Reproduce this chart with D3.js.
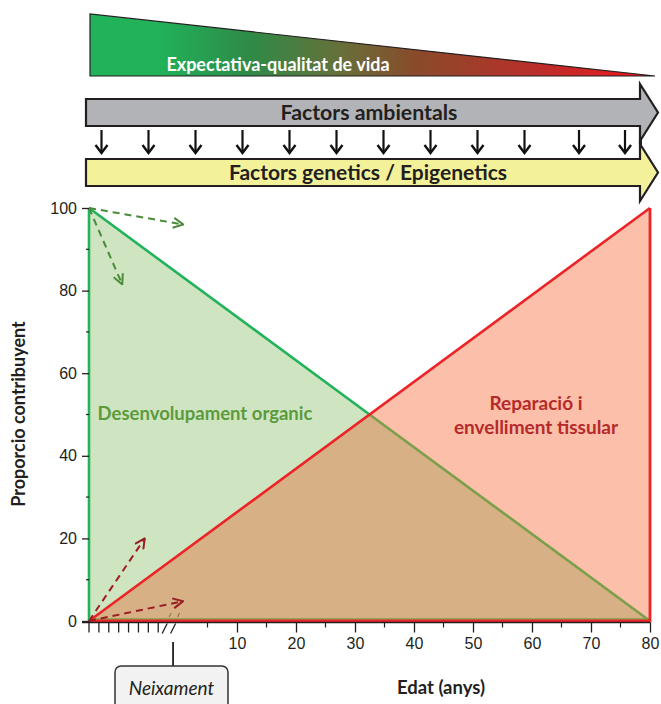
<!DOCTYPE html>
<html><head><meta charset="utf-8">
<script src="https://cdn.jsdelivr.net/npm/d3@7"></script>
<style>
html,body{margin:0;padding:0;background:#fff;}
svg{display:block;}
</style></head>
<body>
<script>
// ---------------- data ----------------
const ages = [-0.75, 80];                 // years (conception = -9 months)
const desenvolupament = [100, 0];         // Desenvolupament organic
const reparacio = [0, 100];               // Reparació i envelliment tissular
const yTicks = [0, 20, 40, 60, 80, 100];
const yMinorTicks = [10, 30, 50, 70, 90];
const xTicks = [10, 20, 30, 40, 50, 60, 70, 80];
const xMinorTicks = [5, 15, 25, 35, 45, 55, 65, 75];
const prenatalMonths = [-9, -8, -7, -6, -5, -4, -3, -2];
const greenArrows = [[[-0.75, 100], [0.9, 96]], [[-0.75, 100], [-0.47, 81.5]]];
const redArrows = [[[-0.75, 0], [-0.28, 20]], [[-0.75, 0], [0.85, 4.8]]];
const topArrowCount = 12;

// ---------------- layout ----------------
const W = 661, H = 704;
const svg = d3.select("body").append("svg").attr("width", W).attr("height", H);
const x = d3.scaleLinear().domain([-0.75, 0, 80]).range([89, 178, 650]);
const y = d3.scaleLinear().domain([0, 100]).range([621, 208]);
const FONT = "Lato, 'Open Sans', sans-serif";

const defs = svg.append("defs");
const grad = defs.append("linearGradient").attr("id", "lifeGrad").attr("x1", "0%").attr("x2", "100%");
[["0%", "#21b35a"], ["12%", "#21b25a"], ["28%", "#2e8b48"], ["44%", "#66703a"], ["58%", "#8a4a2a"], ["78%", "#b8302a"], ["100%", "#f0141e"]]
  .forEach(([o, c]) => grad.append("stop").attr("offset", o).attr("stop-color", c));

function marker(id, color) {
  defs.append("marker").attr("id", id).attr("markerUnits", "userSpaceOnUse")
    .attr("viewBox", "0 0 12 12").attr("refX", 11).attr("refY", 6)
    .attr("markerWidth", 12).attr("markerHeight", 12).attr("orient", "auto")
    .append("path").attr("d", "M1,1 L11,6 L1,11").attr("fill", "none")
    .attr("stroke", color).attr("stroke-width", 2);
}
marker("mGreen", "#4a8a3a");
marker("mRed", "#9b1c22");

// ---------------- top decorations ----------------
svg.append("path").attr("d", "M90,14 L90,76 L655,76 Z").attr("fill", "url(#lifeGrad)");
svg.append("path").attr("d", "M90,76 L90,14 L655,76 Z").attr("fill", "none").attr("stroke", "#231f20").attr("stroke-width", 1.2);
svg.append("text").attr("x", 278).attr("y", 71).attr("text-anchor", "middle")
  .attr("font-family", FONT).attr("font-weight", "bold").attr("font-size", 18)
  .attr("fill", "#fff").text("Expectativa-qualitat de vida");

function bigArrow(yTop, yBot, headTop, headBot, fill) {
  const yMid = (yTop + yBot) / 2;
  const p = `M86,${yTop} L640,${yTop} L640,${headTop} L658,${yMid} L640,${headBot} L640,${yBot} L86,${yBot} Z`;
  svg.append("path").attr("d", p).attr("fill", fill).attr("stroke", "#231f20").attr("stroke-width", 2.2).attr("stroke-linejoin", "miter");
}
svg.append("path").attr("d", "M641,126 L641,158").attr("stroke", "#231f20").attr("stroke-width", 2);
bigArrow(99, 126, 84, 141, "#b1b3b6");
bigArrow(159, 186, 144, 201, "#f3f29b");
svg.append("text").attr("x", 369).attr("y", 120).attr("text-anchor", "middle")
  .attr("font-family", FONT).attr("font-weight", "bold").attr("font-size", 21.3)
  .attr("fill", "#231f20").text("Factors ambientals");
svg.append("text").attr("x", 368).attr("y", 180).attr("text-anchor", "middle")
  .attr("font-family", FONT).attr("font-weight", "bold").attr("font-size", 21)
  .attr("fill", "#231f20").text("Factors genetics / Epigenetics");

const arrowXs = d3.range(topArrowCount).map(i => i < 10 ? 101.5 + i * 47 : (i === 10 ? 579 : 625));
const da = svg.append("g");
arrowXs.forEach(ax => {
  da.append("line").attr("x1", ax).attr("x2", ax).attr("y1", 130).attr("y2", 153).attr("stroke", "#111").attr("stroke-width", 2.2);
  da.append("path").attr("d", `M${ax - 6},${145} L${ax},${153} L${ax + 6},${145}`).attr("fill", "none").attr("stroke", "#111").attr("stroke-width", 2.4);
});

// ---------------- chart areas ----------------
const P0 = [x(ages[0]), x(ages[1])];
// crossing point of the two straight lines (fraction along the segment)
const tCross = (desenvolupament[0] - reparacio[0]) / ((desenvolupament[0] - reparacio[0]) - (desenvolupament[1] - reparacio[1]));
const vCross = desenvolupament[0] + tCross * (desenvolupament[1] - desenvolupament[0]);
const xCross = P0[0] + tCross * (P0[1] - P0[0]);

const gPts = ages.map((a, i) => [x(a), y(desenvolupament[i])]);
const rPts = ages.map((a, i) => [x(a), y(reparacio[i])]);
const cPt = [xCross, y(vCross)];
const base = y(0);

const area = d3.area().x(d => d[0]).y0(base).y1(d => d[1]);
svg.append("path").datum(gPts).attr("d", area).attr("fill", "#cfe5c2");
svg.append("path").datum(rPts).attr("d", area).attr("fill", "#fbbfaa");
svg.append("path").datum([[P0[0], base], cPt, [P0[1], base]]).attr("d", area).attr("fill", "#d7b085");

const line = d3.line();
svg.append("path").datum([gPts[0], cPt]).attr("d", line)
  .attr("fill", "none").attr("stroke", "#22b35a").attr("stroke-width", 2.6);
svg.append("path").datum([cPt, gPts[1]]).attr("d", line)
  .attr("fill", "none").attr("stroke", "#7b9f4b").attr("stroke-width", 2.6);
svg.append("path").attr("d", `M${P0[0]},${gPts[0][1]} L${P0[0]},${base}`)
  .attr("stroke", "#22b35a").attr("stroke-width", 2.6);
svg.append("path").attr("d", `M${P0[0]},${base - 2} L${P0[1]},${base - 2}`)
  .attr("stroke", "#7b9f4b").attr("stroke-width", 1.5);
svg.append("path").datum(rPts).attr("d", line).attr("fill", "none").attr("stroke", "#ec2327").attr("stroke-width", 2.6);
svg.append("path").attr("d", `M${P0[1]},${rPts[1][1]} L${P0[1]},${base} L${P0[0]},${base}`)
  .attr("fill", "none").attr("stroke", "#ec2327").attr("stroke-width", 2.8);

function dashArrows(list, color, mk) {
  list.forEach(([p0, p1]) => {
    svg.append("line").attr("x1", x(p0[0])).attr("y1", y(p0[1])).attr("x2", x(p1[0])).attr("y2", y(p1[1]))
      .attr("stroke", color).attr("stroke-width", 2).attr("stroke-dasharray", "7,5").attr("marker-end", `url(#${mk})`);
  });
}
dashArrows(greenArrows, "#4a8a3a", "mGreen");
dashArrows(redArrows, "#9b1c22", "mRed");

// ---------------- axes ----------------
const axisColor = "#231f20";
const fontAx = "'Liberation Sans', Arial, sans-serif";
const yAxis = svg.append("g").attr("transform", `translate(${x(ages[0])},0)`)
  .call(d3.axisLeft(y).tickValues(yTicks).tickSize(7).tickPadding(5).tickFormat(d3.format("d")));
yAxis.select(".domain").remove();
yAxis.selectAll("text").attr("font-family", fontAx).attr("font-size", 16).attr("fill", axisColor);
yAxis.selectAll("line").attr("stroke", axisColor).attr("stroke-width", 1.3);
svg.append("g").selectAll("line").data(yMinorTicks).join("line")
  .attr("x1", x(ages[0]) - 3).attr("x2", x(ages[0])).attr("y1", d => y(d)).attr("y2", d => y(d))
  .attr("stroke", axisColor).attr("stroke-width", 1.2);

const xAxisY = y(0) + 1.5;
svg.append("line").attr("x1", 82).attr("x2", x(80)).attr("y1", xAxisY).attr("y2", xAxisY).attr("stroke", axisColor).attr("stroke-width", 1.3);
const xAxis = svg.append("g").attr("transform", `translate(0,${xAxisY})`)
  .call(d3.axisBottom(x).tickValues(xTicks).tickSize(10).tickPadding(5).tickFormat(d3.format("d")));
xAxis.select(".domain").remove();
xAxis.selectAll("text").attr("font-family", fontAx).attr("font-size", 16).attr("fill", axisColor);
xAxis.selectAll("line").attr("stroke", axisColor).attr("stroke-width", 1.3);
svg.append("g").selectAll("line").data(xMinorTicks).join("line")
  .attr("x1", d => x(d)).attr("x2", d => x(d)).attr("y1", xAxisY).attr("y2", xAxisY + 5)
  .attr("stroke", axisColor).attr("stroke-width", 1.2);
svg.append("g").selectAll("line").data(prenatalMonths).join("line")
  .attr("x1", d => x(d / 12)).attr("x2", d => x(d / 12)).attr("y1", xAxisY).attr("y2", xAxisY + 10)
  .attr("stroke", axisColor).attr("stroke-width", 1.3);
[-1.4, -0.55].forEach(m => {
  const bx = x(m / 12);
  svg.append("line").attr("x1", bx - 2).attr("x2", bx + 3).attr("y1", xAxisY + 11).attr("y2", xAxisY + 1)
    .attr("stroke", axisColor).attr("stroke-width", 1.3);
  svg.append("line").attr("x1", bx + 5).attr("x2", bx + 7).attr("y1", base - 4).attr("y2", base - 8)
    .attr("stroke", "#7b6a4a").attr("stroke-width", 1);
});

// Neixament callout
const bx0 = x(-0.5 / 12);
svg.append("line").attr("x1", bx0).attr("x2", bx0).attr("y1", 642).attr("y2", 666).attr("stroke", axisColor).attr("stroke-width", 1.8);
svg.append("rect").attr("x", 115).attr("y", 666).attr("width", 113).attr("height", 50).attr("rx", 6)
  .attr("fill", "#f2f2f2").attr("stroke", "#333").attr("stroke-width", 1.5);
svg.append("text").attr("x", 171.5).attr("y", 695).attr("text-anchor", "middle")
  .attr("font-family", FONT).attr("font-style", "italic").attr("font-size", 19)
  .attr("fill", "#231f20").text("Neixament");

// axis titles
svg.append("text").attr("x", 441).attr("y", 694).attr("text-anchor", "middle")
  .attr("font-family", FONT).attr("font-weight", "bold").attr("font-size", 18.5)
  .attr("fill", "#231f20").text("Edat (anys)");
svg.append("text").attr("transform", "translate(25,414) rotate(-90)").attr("text-anchor", "middle")
  .attr("font-family", FONT).attr("font-weight", "bold").attr("font-size", 18)
  .attr("fill", "#231f20").text("Proporcio contribuyent");

// region labels
svg.append("text").attr("x", 205).attr("y", 420).attr("text-anchor", "middle")
  .attr("font-family", FONT).attr("font-weight", "bold").attr("font-size", 18.5)
  .attr("fill", "#5b9b3c").text("Desenvolupament organic");
const rl = svg.append("text").attr("text-anchor", "middle")
  .attr("font-family", FONT).attr("font-weight", "bold").attr("font-size", 19)
  .attr("fill", "#b52a2b");
rl.append("tspan").attr("x", 536).attr("y", 410).text("Reparació i");
rl.append("tspan").attr("x", 536).attr("y", 434).text("envelliment tissular");
</script>
</body></html>
